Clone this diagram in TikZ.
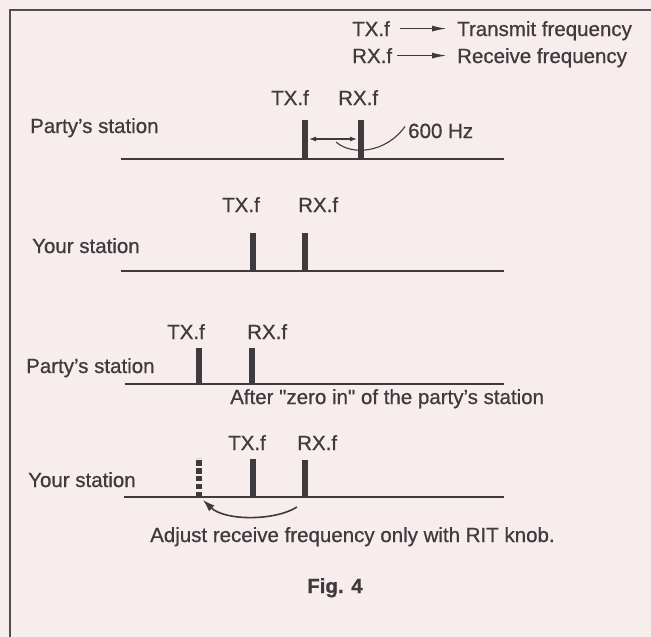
\documentclass[tikz,border=0pt]{standalone}
\usepackage{fontspec}
\setmainfont{Liberation Sans}[FakeBold=0.7]
\usepackage{xcolor}
\usepackage{tikz}
\usetikzlibrary{arrows.meta, positioning}

\definecolor{paper}{RGB}{246,237,236}
\definecolor{ink}{RGB}{62,58,62}

\begin{document}
\begin{tikzpicture}[
    x=1pt, y=-1pt,
    every node/.style={
        inner sep=0pt,
        text=ink,
        font=\fontsize{20.5}{24}\selectfont
    },
    lbl/.style={anchor=base west},
    axis/.style={draw=ink, line width=2pt},
    bar/.style={draw=ink, line width=6.5pt},
    ghostbar/.style={draw=ink, line width=6.5pt, dash pattern=on 5.5pt off 2.3pt},
    key/.style={draw=ink, line width=1.5pt, -{Latex[length=15pt,width=6pt]}},
    thin/.style={draw=ink, line width=1.1pt}
]

% Paper and frame
\fill[paper] (0,0) rectangle (651,637);
\useasboundingbox (0,0) rectangle (651,637);
\coordinate (frametl) at (10,10);
\draw[ink!90, line width=2pt] (651,10) -- (frametl) -- (10,637);

% Legend
\node[lbl] (txkey) at (352,36) {TX.f};
\node[lbl] (txdesc) at (457,36) {Transmit frequency};
\node[lbl] (rxkey) at (352,63) {RX.f};
\node[lbl] (rxdesc) at (457,63) {Receive frequency};
\draw[key] ([xshift=10pt]txkey.east) -- ([xshift=-10pt]txkey.east -| txdesc.west);
\draw[key] ([xshift=5pt]rxkey.east) -- ([xshift=-10pt]rxkey.east -| rxdesc.west);

% Party's station, before
\node[lbl] (party1) at (30,133) {Party’s station};
\coordinate (ax1w) at (121,159);
\coordinate (ax1e) at (504,159);
\draw[axis] (ax1w) -- (ax1e);
\coordinate (tx1) at (305,120);
\coordinate (rx1) at (361,120);
\draw[bar] (tx1) -- (tx1 |- ax1w);
\draw[bar] (rx1) -- (rx1 |- ax1w);
\node[lbl] (tx1lbl) at (271,105) {TX.f};
\node[lbl] (rx1lbl) at (338,105) {RX.f};
\coordinate (gapl) at (309,139);
\coordinate (gapr) at (357,139);
\draw[thin, {Latex[length=7pt,width=5pt]}-{Latex[length=7pt,width=5pt]}] (gapl) -- (gapr);
\node[lbl] (hz) at (408,138) {600 Hz};
\coordinate (hzfoot) at (336,142);
\draw[thin] (hzfoot) .. controls (352,156) and (386,153) .. ([xshift=-3pt,yshift=-3pt]hz.north west);

% Your station, before
\node[lbl] (your2) at (32,253) {Your station};
\coordinate (ax2w) at (121,271);
\coordinate (ax2e) at (504,271);
\draw[axis] (ax2w) -- (ax2e);
\coordinate (tx2) at (253,233);
\coordinate (rx2) at (305,233);
\draw[bar] (tx2) -- (tx2 |- ax2w);
\draw[bar] (rx2) -- (rx2 |- ax2w);
\node[lbl] (tx2lbl) at (222,212) {TX.f};
\node[lbl] (rx2lbl) at (298,212) {RX.f};

% Party's station, after zero in
\node[lbl] (party3) at (26,373) {Party’s station};
\coordinate (ax3w) at (125,384);
\coordinate (ax3e) at (504,384);
\draw[axis] (ax3w) -- (ax3e);
\coordinate (tx3) at (199,348);
\coordinate (rx3) at (252,348);
\draw[bar] (tx3) -- (tx3 |- ax3w);
\draw[bar] (rx3) -- (rx3 |- ax3w);
\node[lbl] (tx3lbl) at (167,339) {TX.f};
\node[lbl] (rx3lbl) at (247,339) {RX.f};
\node[lbl] (zeroin) at (230,404) {After \textquotedbl zero in\textquotedbl\ of the party’s station};

% Your station, after RIT
\node[lbl] (your4) at (28,487) {Your station};
\coordinate (ax4w) at (124,497);
\coordinate (ax4e) at (504,497);
\draw[axis] (ax4w) -- (ax4e);
\coordinate (old4) at (199,458);
\coordinate (tx4) at (253,459);
\coordinate (rx4) at (305,460);
\draw[ghostbar] (old4 |- ax4w) -- (old4);
\draw[bar] (tx4) -- (tx4 |- ax4w);
\draw[bar] (rx4) -- (rx4 |- ax4w);
\node[lbl] (tx4lbl) at (228,450) {TX.f};
\node[lbl] (rx4lbl) at (297,450) {RX.f};
\coordinate (ritfrom) at (297,507);
\coordinate (ritto) at (203,500);
\draw[ink, line width=1.6pt, -{Latex[length=12pt,width=8pt]}] (ritfrom) .. controls (275,521) and (225,521) .. (ritto);
\node[lbl] (ritnote) at (150,542) {Adjust receive frequency only with RIT knob.};

% Caption
\node[lbl, font=\fontsize{20.5}{24}\selectfont\bfseries] (fig) at (307,593) {Fig. 4};

\end{tikzpicture}
\end{document}
